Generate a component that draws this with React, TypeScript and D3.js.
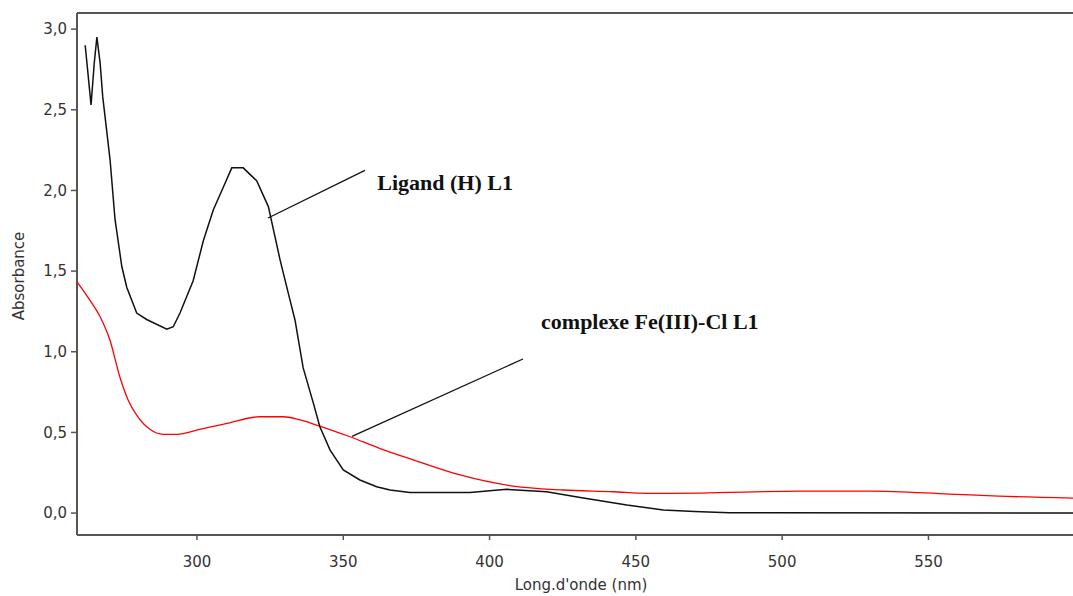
import React from "react";
import * as d3 from "d3";

const ligandWl = [261.8, 263.8, 264.9, 265.8, 266.9, 267.8, 270.3, 272, 274.3, 276, 279.4, 282.8, 289.7, 291.9, 294.2, 298.7, 302.2, 305.6, 309, 311.9, 315.8, 320.4, 324.4, 328.4, 331.8, 333.5, 336.3, 339.8, 342, 345.5, 350, 355.7, 361.4, 366, 372.8, 393.3, 405.9, 419.5, 431, 446.9, 459.4, 470, 482, 600];
const ligandAbs = [2.9, 2.53, 2.79, 2.95, 2.79, 2.58, 2.19, 1.82, 1.53, 1.4, 1.24, 1.2, 1.14, 1.155, 1.24, 1.44, 1.69, 1.88, 2.02, 2.14, 2.14, 2.06, 1.9, 1.57, 1.32, 1.197, 0.9, 0.68, 0.535, 0.39, 0.267, 0.205, 0.163, 0.143, 0.128, 0.128, 0.147, 0.132, 0.097, 0.05, 0.019, 0.01, 0.002, 0.0];

const complexWl = [259, 263.4, 266.9, 270.3, 273.7, 276.5, 279.4, 283.9, 288.5, 293.1, 301, 310.2, 321.5, 329.5, 335.2, 339.8, 352.3, 362.6, 373.9, 389.9, 408.1, 425.2, 442.3, 453.7, 472, 506, 530, 557, 574, 599.4];
const complexAbs = [1.434, 1.32, 1.217, 1.07, 0.84, 0.7, 0.607, 0.519, 0.488, 0.488, 0.519, 0.556, 0.597, 0.597, 0.577, 0.552, 0.473, 0.4, 0.33, 0.236, 0.167, 0.143, 0.132, 0.122, 0.124, 0.136, 0.136, 0.118, 0.105, 0.093];

const xTicks = [300, 350, 400, 450, 500, 550];
const yTicks = [0, 0.5, 1.0, 1.5, 2.0, 2.5, 3.0];

const labels = [
  { text: "Ligand (H) L1", wl: 361.6, abs: 2.0, fromWl: 324.3, fromAbs: 1.829, toWl: 357.4, toAbs: 2.124 },
  { text: "complexe Fe(III)-Cl L1", wl: 417.6, abs: 1.14, fromWl: 353, fromAbs: 0.475, toWl: 411.4, toAbs: 0.955 },
];

export default function App() {
  const W = 1073, H = 596;
  const left = 77, right = 1073, top = 13, bottom = 535;
  const x = d3.scaleLinear().domain([259, 599.4]).range([left, right]);
  const y = d3.scaleLinear().domain([-0.136, 3.1]).range([bottom, top]);

  const lineL = d3.line<number>().x((_, i) => x(ligandWl[i])).y((d) => y(d)).curve(d3.curveLinear);
  const lineC = d3.line<number>().x((_, i) => x(complexWl[i])).y((d) => y(d)).curve(d3.curveMonotoneX);

  const axisColor = "#555";
  const textColor = "#333";
  const fmt = (v: number) => v.toFixed(1).replace(".", ",");

  return (
    <svg width={W} height={H} style={{ position: "absolute", left: 0, top: 0, background: "#fff" }}>
      <rect x={0} y={0} width={W} height={H} fill="#fff" />
      <line x1={left} y1={top} x2={right} y2={top} stroke={axisColor} strokeWidth={2} />
      <line x1={left} y1={top} x2={left} y2={bottom} stroke={axisColor} strokeWidth={2} />
      <line x1={left} y1={bottom} x2={right} y2={bottom} stroke={axisColor} strokeWidth={2} />
      {yTicks.map((t) => (
        <g key={"y" + t}>
          <line x1={left - 6} x2={left} y1={y(t)} y2={y(t)} stroke={axisColor} strokeWidth={1.5} />
          <text x={left - 10} y={y(t)} dy="0.35em" textAnchor="end" fontFamily="DejaVu Sans" fontSize={15} fill={textColor}>
            {fmt(t)}
          </text>
        </g>
      ))}
      {xTicks.map((t) => (
        <g key={"x" + t}>
          <line x1={x(t)} x2={x(t)} y1={bottom} y2={bottom + 5} stroke={axisColor} strokeWidth={1.5} />
          <text x={x(t)} y={bottom + 32} textAnchor="middle" fontFamily="DejaVu Sans" fontSize={15} fill={textColor}>
            {t}
          </text>
        </g>
      ))}
      <text transform={`translate(24, ${(top + bottom) / 2 + 2}) rotate(-90)`} textAnchor="middle" fontFamily="DejaVu Sans" fontSize={15} fill={textColor}>
        Absorbance
      </text>
      <text x={581} y={590} textAnchor="middle" fontFamily="DejaVu Sans" fontSize={15} fill={textColor}>
        Long.d'onde (nm)
      </text>
      <path d={lineC(complexAbs) || ""} fill="none" stroke="#ff0000" strokeWidth={1.3} />
      <path d={lineL(ligandAbs) || ""} fill="none" stroke="#111" strokeWidth={1.5} />
      {labels.map((l) => (
        <g key={l.text}>
          <line x1={x(l.fromWl)} y1={y(l.fromAbs)} x2={x(l.toWl)} y2={y(l.toAbs)} stroke="#111" strokeWidth={1.3} />
          <text x={x(l.wl)} y={y(l.abs)} fontFamily="Liberation Serif" fontWeight="bold" fontSize={22} fill="#111">
            {l.text}
          </text>
        </g>
      ))}
    </svg>
  );
}
